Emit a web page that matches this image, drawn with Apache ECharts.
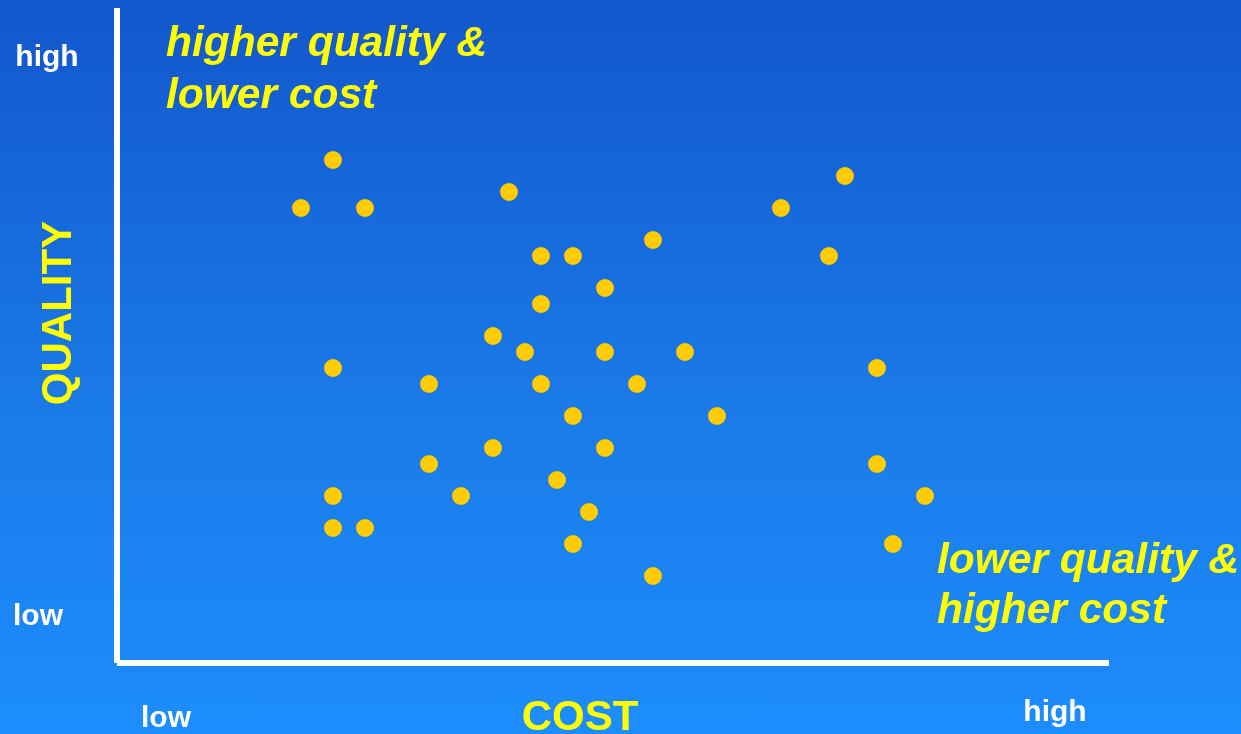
<!DOCTYPE html>
<html>
<head>
<meta charset="utf-8">
<title>Quality vs Cost</title>
<script src="https://cdn.jsdelivr.net/npm/echarts@6/dist/echarts.min.js"></script>
<style>
  html, body { margin: 0; padding: 0; }
  #chart {
    width: 1241px;
    height: 734px;
    background: linear-gradient(to bottom, #1257cc 0%, #1a7ae8 55%, #1d8dfd 100%);
  }
</style>
</head>
<body>
<div id="chart"></div>
<script>
// Relative position of each item: cost (left = low) and quality (bottom = low)
const cost    = [13, 11, 15, 24, 45, 41, 44, 26, 28, 33, 30, 26, 23, 25, 30, 35, 13, 47, 19,
                 26, 32, 28, 37, 23, 30, 19, 47, 27, 13, 21, 50, 29, 13, 15, 28, 48, 33];
const quality = [31, 28, 28, 29, 30, 28, 25, 25, 25, 26, 23, 22, 20, 19, 19, 19, 18, 18, 17,
                 17, 17, 15, 15, 13, 13, 12, 12, 11, 10, 10, 10,  9,  8,  8,  7,  7,  5];

// Axis end labels and titles
const axisEnds = { low: 'low', high: 'high' };
const axisTitles = { x: 'COST', y: 'QUALITY' };
const cornerNotes = {
  topLeft: ['higher quality &', 'lower cost'],
  bottomRight: ['lower quality &', 'higher cost']
};

const points = cost.map((c, i) => [c, quality[i]]);

const chart = echarts.init(document.getElementById('chart'), null, { renderer: 'canvas' });

const noteFont = 'italic bold 42.5px "Liberation Sans", Arial, sans-serif';
const endFont = 'bold 30px "Liberation Sans", Arial, sans-serif';
const titleFont = 'bold 42px "Liberation Sans", Arial, sans-serif';

function txt(text, x, y, font, fill, align, extra) {
  return Object.assign({
    type: 'text',
    x: x, y: y,
    silent: true,
    style: { text: text, font: font, fill: fill, align: align || 'left', verticalAlign: 'middle' }
  }, extra || {});
}

const axisStyle = {
  axisLine: { show: true, onZero: false, lineStyle: { color: '#ffffff', width: 6, cap: 'butt' } },
  axisTick: { show: false },
  axisLabel: { show: false },
  splitLine: { show: false }
};

chart.setOption({
  backgroundColor: 'transparent',
  animation: false,
  grid: { left: 117, right: 132, top: 8, bottom: 71 },
  xAxis: Object.assign({ type: 'value', min: -0.5, max: 61.5 }, axisStyle),
  yAxis: Object.assign({ type: 'value', min: -0.4375, max: 40.5 }, axisStyle),
  series: [{
    type: 'scatter',
    data: points,
    symbol: 'circle',
    symbolSize: 18,
    itemStyle: { color: '#ffcc00', opacity: 1 }
  }],
  graphic: [
    // corner notes
    txt(cornerNotes.topLeft[0], 166, 44, noteFont, '#ffff00'),
    txt(cornerNotes.topLeft[1], 166, 96, noteFont, '#ffff00'),
    txt(cornerNotes.bottomRight[0], 937, 561, noteFont, '#ffff00'),
    txt(cornerNotes.bottomRight[1], 937, 611, noteFont, '#ffff00'),
    // axis end labels
    txt(axisEnds.high, 47, 58, endFont, '#ffffff', 'center'),
    txt(axisEnds.low, 38, 617, endFont, '#ffffff', 'center'),
    txt(axisEnds.low, 166, 719, endFont, '#ffffff', 'center'),
    txt(axisEnds.high, 1055, 713, endFont, '#ffffff', 'center'),
    // axis titles
    txt(axisTitles.x, 580, 718, titleFont, '#ffff00', 'center'),
    txt(axisTitles.y, 59.5, 313, titleFont, '#ffff00', 'center', { rotation: Math.PI / 2 })
  ]
});
</script>
</body>
</html>
